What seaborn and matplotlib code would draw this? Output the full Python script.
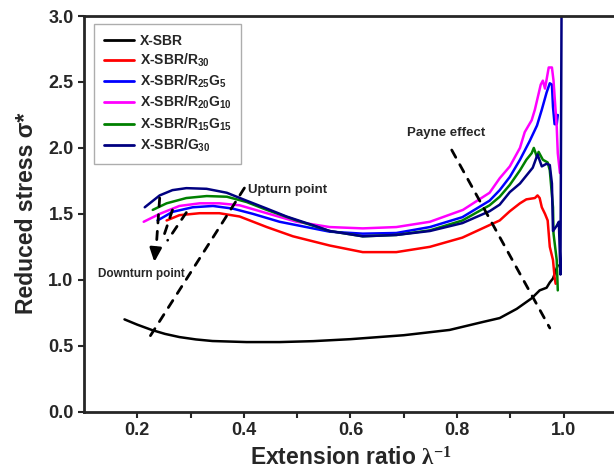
import pandas as pd
import numpy as np
import matplotlib.pyplot as plt
import seaborn as sns

#%% data
sbr_x = [0.176, 0.200, 0.227, 0.252, 0.279, 0.310, 0.341, 0.405, 0.467, 0.530, 0.600, 0.700,
         0.786, 0.848, 0.880, 0.912, 0.940, 0.955, 0.968, 0.974, 0.980, 0.989]
sbr_y = [0.70, 0.66, 0.62, 0.59, 0.566, 0.548, 0.536, 0.528, 0.528, 0.535, 0.55, 0.58,
         0.62, 0.68, 0.71, 0.78, 0.86, 0.92, 0.94, 0.98, 1.01, 1.11]

r30_x = [0.255, 0.279, 0.317, 0.354, 0.392, 0.443, 0.492, 0.561, 0.623, 0.686, 0.749, 0.810,
         0.861, 0.880, 0.899, 0.918, 0.930, 0.946, 0.951, 0.955, 0.959, 0.965, 0.970, 0.974,
         0.980, 0.983, 0.985]
r30_y = [1.45, 1.49, 1.505, 1.505, 1.48, 1.40, 1.33, 1.26, 1.21, 1.21, 1.25, 1.32,
         1.415, 1.45, 1.52, 1.58, 1.61, 1.62, 1.64, 1.62, 1.55, 1.50, 1.45, 1.25,
         1.15, 1.02, 0.97]

r25g5_x = [0.238, 0.266, 0.304, 0.342, 0.379, 0.417, 0.467, 0.517, 0.561, 0.623, 0.686, 0.749,
           0.810, 0.861, 0.880, 0.899, 0.918, 0.936, 0.950, 0.959, 0.968, 0.974, 0.978, 0.980,
           0.983, 0.987, 0.989]
r25g5_y = [1.45, 1.515, 1.55, 1.56, 1.54, 1.50, 1.44, 1.40, 1.365, 1.35, 1.355, 1.40,
           1.475, 1.60, 1.68, 1.78, 1.91, 2.05, 2.17, 2.29, 2.42, 2.49, 2.48, 2.31,
           2.18, 2.18, 2.25]

r20g10_x = [0.212, 0.242, 0.279, 0.317, 0.354, 0.392, 0.443, 0.499, 0.561, 0.623, 0.686, 0.749,
            0.811, 0.861, 0.880, 0.899, 0.918, 0.927, 0.940, 0.946, 0.957, 0.961, 0.965, 0.972,
            0.978, 0.981, 0.987, 0.989, 0.993]
r20g10_y = [1.44, 1.50, 1.56, 1.58, 1.58, 1.565, 1.505, 1.44, 1.40, 1.39, 1.40, 1.44,
            1.53, 1.66, 1.77, 1.86, 2.00, 2.12, 2.21, 2.29, 2.48, 2.51, 2.45, 2.61,
            2.61, 2.51, 2.16, 1.96, 1.81]

r15g15_x = [0.229, 0.255, 0.292, 0.330, 0.368, 0.405, 0.443, 0.499, 0.561, 0.623, 0.686, 0.749,
            0.810, 0.861, 0.880, 0.899, 0.918, 0.930, 0.940, 0.944, 0.950, 0.953, 0.961, 0.970,
            0.974, 0.980, 0.981, 0.987, 0.989]
r15g15_y = [1.53, 1.58, 1.62, 1.635, 1.63, 1.59, 1.53, 1.45, 1.37, 1.33, 1.34, 1.375,
            1.45, 1.565, 1.63, 1.72, 1.83, 1.91, 1.96, 2.00, 1.93, 1.97, 1.91, 1.89,
            1.83, 1.55, 1.35, 1.15, 0.92]

g30_x = [0.214, 0.242, 0.266, 0.292, 0.330, 0.368, 0.405, 0.443, 0.480, 0.529, 0.561, 0.623,
         0.686, 0.749, 0.810, 0.861, 0.880, 0.899, 0.918, 0.930, 0.942, 0.951, 0.959, 0.968,
         0.974, 0.978, 0.980, 0.987, 0.991, 0.994, 0.996]
g30_y = [1.55, 1.64, 1.68, 1.695, 1.69, 1.66, 1.60, 1.54, 1.48, 1.415, 1.37, 1.33,
         1.34, 1.37, 1.43, 1.52, 1.57, 1.665, 1.73, 1.79, 1.85, 1.95, 1.86, 1.88,
         1.87, 1.73, 1.37, 1.41, 1.44, 1.04, 3.0]

labels = ['X-SBR', r'X-SBR/R$_{\mathbf{30}}$', r'X-SBR/R$_{\mathbf{25}}$G$_{\mathbf{5}}$',
          r'X-SBR/R$_{\mathbf{20}}$G$_{\mathbf{10}}$', r'X-SBR/R$_{\mathbf{15}}$G$_{\mathbf{15}}$',
          r'X-SBR/G$_{\mathbf{30}}$']
colors = ['#000000', '#ff0000', '#0000ff', '#ff00ff', '#008000', '#000080']

xticks = [0.2, 0.4, 0.6, 0.8, 1.0]
yticks = [0.0, 0.5, 1.0, 1.5, 2.0, 2.5, 3.0]

# annotation guide lines (start, end) in data units
upturn_line = [(0.401, 1.696), (0.223, 0.566)]
payne_line = [(0.790, 1.984), (0.974, 0.635)]
downturn_lines = [[(0.242, 1.62), (0.234, 1.16)],
                  [(0.266, 1.53), (0.247, 1.30)],
                  [(0.292, 1.51), (0.257, 1.30)]]

#%%
series = [(sbr_x, sbr_y), (r30_x, r30_y), (r25g5_x, r25g5_y), (r20g10_x, r20g10_y),
          (r15g15_x, r15g15_y), (g30_x, g30_y)]
frames = []
for lab, (xs, ys) in zip(labels, series):
    frames.append(pd.DataFrame({'x': xs, 'y': ys, 'sample': lab}))
df = pd.concat(frames, ignore_index=True)

sns.set_style('ticks')
plt.rcParams['font.family'] = ['Liberation Sans', 'DejaVu Sans']
plt.rcParams['font.weight'] = 'bold'
plt.rcParams['mathtext.fontset'] = 'custom'
plt.rcParams['mathtext.bf'] = 'Liberation Sans:bold'
plt.rcParams['mathtext.rm'] = 'Liberation Serif'
plt.rcParams['mathtext.it'] = 'Liberation Serif:italic'

f = plt.figure(figsize=(6.14, 4.74), dpi=100)
ax = f.add_axes([0.1368, 0.1314, 0.868, 0.8348])
sns.lineplot(data=df, x='x', y='y', hue='sample', hue_order=labels, palette=colors,
             sort=False, estimator=None, lw=1.8, ax=ax)

ax.set(xlim=[0.1, 1.1], ylim=[0, 3.0])
ax.set_xticks(xticks)
ax.set_xticklabels([f'{t:.1f}' for t in xticks])
ax.set_xticks([0.3, 0.5, 0.7, 0.9], minor=True)
ax.set_yticks(yticks)
ax.set_yticklabels([f'{t:.1f}' for t in yticks])
ax.tick_params(which='both', direction='out', width=1.5, labelsize=13)
ax.tick_params(which='major', length=4)
ax.tick_params(which='minor', length=4)
for s in ax.spines.values():
    s.set_linewidth(2)
ax.set_xlabel(r'Extension ratio $\mathrm{\lambda}^{\mathrm{-1}}$', fontsize=16.5, fontweight='bold', labelpad=6)
ax.set_ylabel('Reduced stress σ*', fontsize=16.5, fontweight='bold', labelpad=7)

leg = ax.legend(loc='upper left', bbox_to_anchor=(0.019, 0.98), borderaxespad=0, fontsize=10,
                handlelength=2.2, frameon=True, fancybox=False, labelspacing=0.3,
                handletextpad=0.4, borderpad=0.7)
leg.get_frame().set_edgecolor('#999999')
leg.get_frame().set_linewidth(1)
for line in leg.get_lines():
    line.set_linewidth(2)

dash = dict(arrowstyle='-', color='black', lw=2, ls=(0, (3, 3)), shrinkA=0, shrinkB=0)
ax.annotate('', xy=upturn_line[1], xytext=upturn_line[0], arrowprops=dash)
ax.annotate('', xy=payne_line[1], xytext=payne_line[0], arrowprops=dash)
for a, b in downturn_lines:
    ax.annotate('', xy=b, xytext=a, arrowprops=dash)
ax.annotate('', xy=(0.232, 1.135), xytext=(0.234, 1.22),
            arrowprops=dict(arrowstyle='-|>,head_length=0.8,head_width=0.35', color='black', lw=2,
                            shrinkA=0, shrinkB=0))

ax.text(0.407, 1.68, 'Upturn point', fontsize=9.5, fontweight='bold', va='center', ha='left')
ax.text(0.707, 2.11, 'Payne effect', fontsize=9.5, fontweight='bold', va='center', ha='left')
ax.text(0.1255, 1.044, 'Downturn point', fontsize=8.5, fontweight='bold', va='center', ha='left')

plt.savefig('out.png', dpi=100)
